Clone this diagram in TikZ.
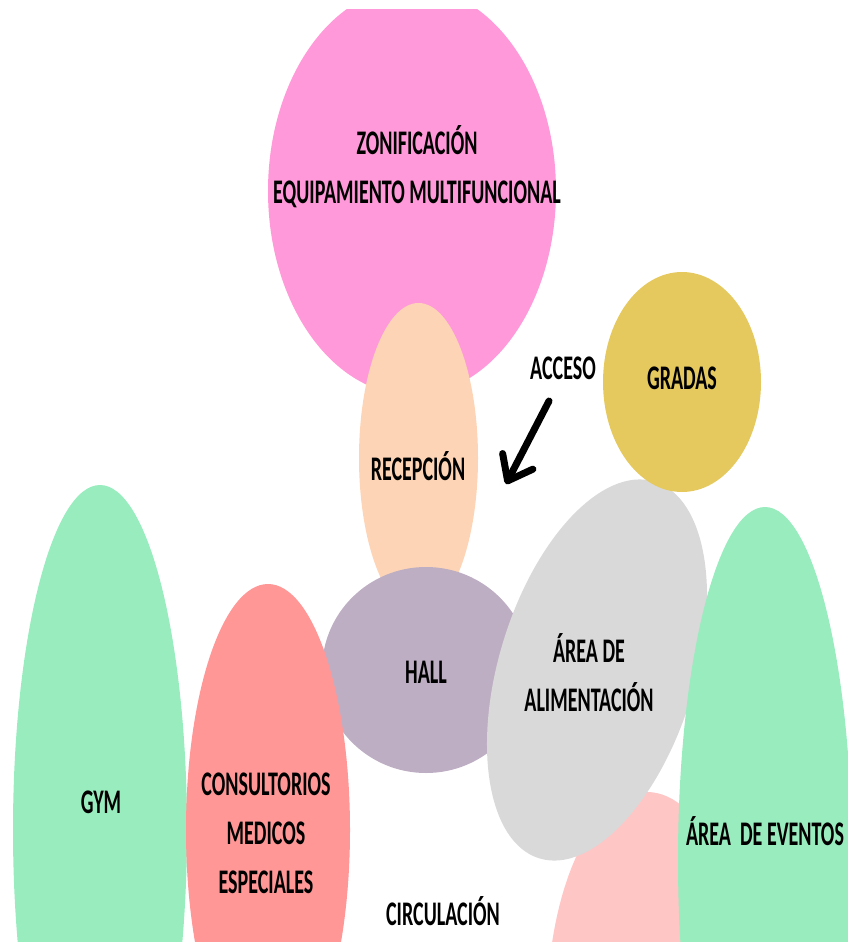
\documentclass[tikz,border=0pt]{standalone}
\usepackage{graphicx}
\usepackage{fontspec}
\setmainfont{Carlito}
\usetikzlibrary{arrows.meta}
\definecolor{cPinkTop}{HTML}{FF99D9}
\definecolor{cPeach}{HTML}{FDD4B5}
\definecolor{cHall}{HTML}{BEAEC3}
\definecolor{cGradas}{HTML}{E5C95F}
\definecolor{cGray}{HTML}{D9D9D9}
\definecolor{cRed}{HTML}{FF9797}
\definecolor{cLightPink}{HTML}{FFC6C6}
\definecolor{cGreen}{HTML}{98ECBE}
\newcommand{\sqz}[1]{\scalebox{0.58}[1]{#1}}
\tikzset{
  lbl/.style={inner sep=0pt, anchor=base, font=\fontsize{34.5}{49}\selectfont\bfseries, text=black},
  arrowline/.style={line width=7pt, line cap=round, line join=round,
    -{Straight Barb[length=22pt,width=34pt,round]}}
}
\begin{document}
\begin{tikzpicture}[x=1pt,y=-1pt]
\useasboundingbox (0,0) rectangle (848,942);
\begin{scope}
\clip (0,10) rectangle (848,942);
% shapes
\fill[cPinkTop] (412,191) ellipse [x radius=144pt, y radius=204pt];
\fill[cPeach] (418.5,458) ellipse [x radius=59.5pt, y radius=155pt];
\fill[cHall] (426,670) ellipse [x radius=104pt, y radius=103pt];
\fill[cLightPink] (647,1012) ellipse [x radius=100pt, y radius=220pt];
\fill[cGray, shift={(597,670)}, rotate=-17] (0,0) ellipse [x radius=98pt, y radius=197pt];
\fill[cGradas] (682,382) ellipse [x radius=79pt, y radius=110pt];
\fill[cGreen] (100,830) ellipse [x radius=87pt, y radius=345pt];
\fill[cRed] (268,830) ellipse [x radius=82pt, y radius=246pt];
\fill[cGreen] (765,860) ellipse [x radius=87pt, y radius=353pt];
\end{scope}
% labels
\node[lbl] (zon) at (417,203) {\sqz{\begin{tabular}[b]{@{}c@{}}ZONIFICACIÓN\\EQUIPAMIENTO MULTIFUNCIONAL\end{tabular}}};
\node[lbl] (rec) at (418,480) {\sqz{RECEPCIÓN}};
\node[lbl] (acc) at (563,379) {\sqz{ACCESO}};
\node[lbl] (gra) at (682,389) {\sqz{GRADAS}};
\node[lbl] (hall) at (426,683) {\sqz{HALL}};
\node[lbl] (ali) at (589,711) {\sqz{\begin{tabular}[b]{@{}c@{}}ÁREA DE\\ALIMENTACIÓN\end{tabular}}};
\node[lbl] (eve) at (765,845) {\sqz{ÁREA\ \ DE EVENTOS}};
\node[lbl] (gym) at (101,813) {\sqz{GYM}};
\node[lbl] (con) at (266,893) {\sqz{\begin{tabular}[b]{@{}c@{}}CONSULTORIOS\\MEDICOS\\ESPECIALES\end{tabular}}};
\node[lbl] (cir) at (443,925) {\sqz{CIRCULACIÓN}};
% arrow
\coordinate (arrS) at (549,401);
\coordinate (arrE) at (506,484);
\draw[arrowline] (arrS) -- (arrE);
\end{tikzpicture}
\end{document}
